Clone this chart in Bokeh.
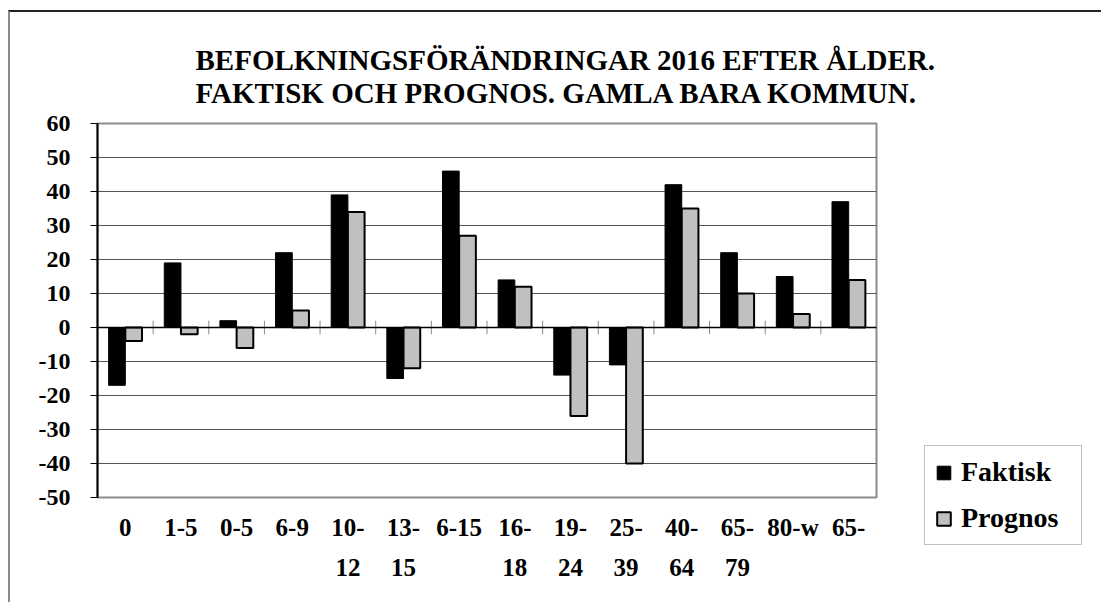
from bokeh.plotting import figure
from bokeh.models import (ColumnDataSource, FixedTicker, LinearAxis, Span, Title,
                          Legend, LegendItem, Range1d)
from bokeh.embed import file_html
from bokeh.resources import INLINE

# ---- data ----
categories = ["0", "1-5", "0-5", "6-9", "10-12", "13-15", "6-15", "16-18",
              "19-24", "25-39", "40-64", "65-79", "80-w", "65-"]
faktisk = [-17, 19, 2, 22, 39, -15, 46, 14, -14, -11, 42, 22, 15, 37]
prognos = [-4, -2, -6, 5, 34, -12, 27, 12, -26, -40, 35, 10, 4, 14]
series_names = ["Faktisk", "Prognos"]
y_ticks = [-50, -40, -30, -20, -10, 0, 10, 20, 30, 40, 50, 60]
title_lines = ["BEFOLKNINGSFÖRÄNDRINGAR 2016 EFTER ÅLDER.",
               "FAKTISK OCH PROGNOS. GAMLA BARA KOMMUN."]

FONT = "Liberation Serif"
n = len(categories)
idx = list(range(n))


def wrap(lbl):
    # category labels longer than 4 chars wrap after the dash
    if len(lbl) > 4 and "-" in lbl:
        a, b = lbl.split("-", 1)
        return [a + "-", b]
    return [lbl, ""]


line1 = {i: wrap(c)[0] for i, c in zip(idx, categories)}
line2 = {i: wrap(c)[1] for i, c in zip(idx, categories)}

src = ColumnDataSource(dict(
    xf=[i - 0.15 for i in idx], xp=[i + 0.15 for i in idx],
    faktisk=faktisk, prognos=prognos))

p = figure(frame_width=779, frame_height=374, output_backend="svg", toolbar_location=None,
           x_range=Range1d(-0.5, n - 0.5), y_range=Range1d(y_ticks[0], y_ticks[-1]),
           min_border_left=87, min_border_right=0,
           min_border_top=111, min_border_bottom=105,
           background_fill_color="white", border_fill_color="white")
p.styles = {"margin-left": "8px", "margin-top": "10px",
            "border-top": "2px solid #222222", "border-left": "2px solid #8a8a8a"}

p.outline_line_color = "#8c8c8c"
p.outline_line_width = 2

# grid
p.xgrid.grid_line_color = None
p.ygrid.grid_line_color = "#555555"
p.ygrid.grid_line_width = 1
p.ygrid.ticker = FixedTicker(ticks=y_ticks)

# y axis
p.yaxis.ticker = FixedTicker(ticks=y_ticks)
p.yaxis.major_label_overrides = {v: str(v) for v in y_ticks}
p.yaxis.axis_line_color = "black"
p.yaxis.axis_line_width = 2
p.yaxis.major_tick_line_color = "black"
p.yaxis.major_tick_out = 7
p.yaxis.major_tick_in = 0
p.yaxis.minor_tick_line_color = None
p.yaxis.major_label_standoff = 20
p.yaxis.major_label_text_font = FONT
p.yaxis.major_label_text_font_style = "bold"
p.yaxis.major_label_text_font_size = "24px"
p.yaxis.major_label_text_color = "black"

# x axis (two label lines)
for ax, lines, standoff in ((p.xaxis[0], line1, 16), (None, line2, 15)):
    if ax is None:
        ax = LinearAxis()
        p.add_layout(ax, "below")
    ax.ticker = FixedTicker(ticks=idx)
    ax.major_label_overrides = lines
    ax.axis_line_color = None
    ax.major_tick_line_color = None
    ax.minor_tick_line_color = None
    ax.major_tick_out = 0
    ax.major_tick_in = 0
    ax.major_label_standoff = standoff
    ax.major_label_text_font = FONT
    ax.major_label_text_font_style = "bold"
    ax.major_label_text_font_size = "25px"
    ax.major_label_text_color = "black"

# zero line and category ticks on it
p.add_layout(Span(location=0, dimension="width", line_color="black", line_width=1.5))
bounds = [i + 0.5 for i in idx]
p.segment(x0=bounds, x1=bounds, y0=[-2] * n, y1=[2] * n,
          line_color="#8c8c8c", line_width=1)

# bars
rf = p.vbar(x="xf", top="faktisk", bottom=0, width=0.3, source=src,
            fill_color="black", line_color="black", line_width=1)
rp = p.vbar(x="xp", top="prognos", bottom=0, width=0.3, source=src,
            fill_color="#c0c0c0", line_color="black", line_width=2)

# legend (right side panel)
legend = Legend(items=[LegendItem(label=series_names[0], renderers=[rf]),
                       LegendItem(label=series_names[1], renderers=[rp])],
                location=(48, -48))
legend.label_text_font = FONT
legend.label_text_font_style = "bold"
legend.label_text_font_size = "28px"
legend.label_text_color = "black"
legend.label_width = 110
legend.border_line_color = "#808080"
legend.border_line_width = 1
legend.background_fill_color = "white"
legend.background_fill_alpha = 1
legend.glyph_width = 17
legend.glyph_height = 17
legend.label_standoff = 9
legend.spacing = 14
legend.padding = 10
legend.margin = 0
p.add_layout(legend, "right")

# title: one two-line block
p.title = None
p.add_layout(Title(text="\n".join(title_lines), align="left", offset=98, standoff=28,
                   text_font=FONT, text_font_style="bold", text_line_height=1.05,
                   text_font_size="29px", text_color="black"), "above")

open("out.html", "w").write(file_html(p, INLINE))
